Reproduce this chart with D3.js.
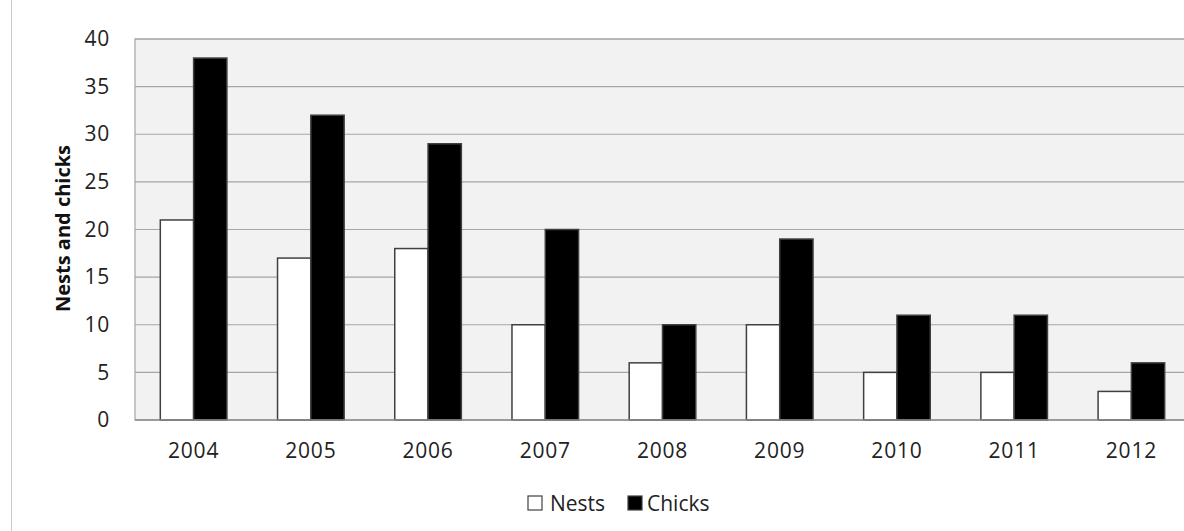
<!DOCTYPE html>
<html>
<head>
<meta charset="utf-8">
<script src="https://cdn.jsdelivr.net/npm/d3@7"></script>
<style>
  html, body { margin: 0; padding: 0; background: #fff; }
  svg { display: block; font-family: "Open Sans", "DejaVu Sans", sans-serif; }
</style>
</head>
<body>
<svg id="chart" width="1184" height="531"></svg>
<script>
// Nesting survey by year
const years = ["2004", "2005", "2006", "2007", "2008", "2009", "2010", "2011", "2012"];
const nests = [21, 17, 18, 10, 6, 10, 5, 5, 3];
const chicks = [38, 32, 29, 20, 10, 19, 11, 11, 6];
const seriesNames = ["Nests", "Chicks"];
const yTicks = [0, 5, 10, 15, 20, 25, 30, 35, 40];

const svg = d3.select("#chart");
const margin = { left: 135, top: 39, right: -6, bottom: 111 };
const W = 1184, H = 531;
const innerW = W - margin.left - margin.right;
const innerH = H - margin.top - margin.bottom;
const FONT = "'Open Sans', sans-serif";

// outer chart frame edge on the left
svg.append("line")
  .attr("x1", 11.5).attr("x2", 11.5).attr("y1", 0).attr("y2", H)
  .attr("stroke", "#c8c8c8").attr("stroke-width", 1);

const g = svg.append("g").attr("transform", `translate(${margin.left},${margin.top})`);

const x = d3.scaleBand().domain(years).range([0, innerW]).paddingInner(0).paddingOuter(0);
const xs = d3.scaleBand().domain(seriesNames).range([0, x.bandwidth()]).paddingInner(0).paddingOuter(0.76);
const y = d3.scaleLinear().domain([0, 40]).range([innerH, 0]);

// plot background
g.append("rect").attr("x", 0).attr("y", 0).attr("width", innerW).attr("height", innerH)
  .attr("fill", "#f2f2f2").attr("stroke", "#a6a6a6").attr("stroke-width", 1.2);

// gridlines
g.append("g").selectAll("line").data(yTicks.filter(t => t > 0)).join("line")
  .attr("x1", 0).attr("x2", innerW)
  .attr("y1", d => y(d)).attr("y2", d => y(d))
  .attr("stroke", "#a6a6a6").attr("stroke-width", 1.2);

// y axis labels
const yAxis = d3.axisLeft(y).tickValues(yTicks).tickSize(0).tickPadding(25);
const ya = g.append("g").call(yAxis).attr("font-family", FONT).attr("font-size", 21);
ya.select(".domain").remove();
ya.selectAll("text").attr("fill", "#222").attr("letter-spacing", 0.8);

// x axis labels
const xAxis = d3.axisBottom(x).tickSize(0).tickPadding(23);
const xa = g.append("g").attr("transform", `translate(0,${innerH})`).call(xAxis)
  .attr("font-family", FONT).attr("font-size", 21);
xa.select(".domain").remove();
xa.selectAll("text").attr("fill", "#222").attr("letter-spacing", 0.8);

// bars
const rows = years.map((yr, i) => ({ year: yr, values: [nests[i], chicks[i]] }));
const colors = { Nests: "#ffffff", Chicks: "#000000" };
const grp = g.append("g").selectAll("g").data(rows).join("g")
  .attr("transform", d => `translate(${x(d.year)},0)`);
grp.selectAll("rect").data(d => seriesNames.map((s, k) => ({ s, v: d.values[k] }))).join("rect")
  .attr("x", d => xs(d.s)).attr("width", xs.bandwidth())
  .attr("y", d => y(d.v)).attr("height", d => innerH - y(d.v))
  .attr("fill", d => colors[d.s]).attr("stroke", "#404040").attr("stroke-width", 1.5);

// baseline
g.append("line").attr("x1", 0).attr("x2", innerW).attr("y1", innerH).attr("y2", innerH)
  .attr("stroke", "#8c8c8c").attr("stroke-width", 1.5);

// y axis title
svg.append("text")
  .attr("transform", `translate(70,${margin.top + innerH / 2 - 1}) rotate(-90)`)
  .attr("text-anchor", "middle")
  .attr("font-family", FONT)
  .attr("font-size", 20).attr("font-weight", "bold").attr("fill", "#111")
  .text("Nests and chicks");

// legend
const legend = svg.append("g").attr("transform", "translate(528,496)")
  .attr("font-family", FONT).attr("font-size", 21);
const items = [{ s: "Nests", x: 0, gap: 22 }, { s: "Chicks", x: 100, gap: 19 }];
items.forEach(it => {
  legend.append("rect").attr("x", it.x).attr("y", 0).attr("width", 14).attr("height", 14)
    .attr("fill", colors[it.s]).attr("stroke", "#404040").attr("stroke-width", 1.2);
  legend.append("text").attr("x", it.x + it.gap).attr("y", 15)
    .attr("fill", "#222").text(it.s);
});
</script>
</body>
</html>
